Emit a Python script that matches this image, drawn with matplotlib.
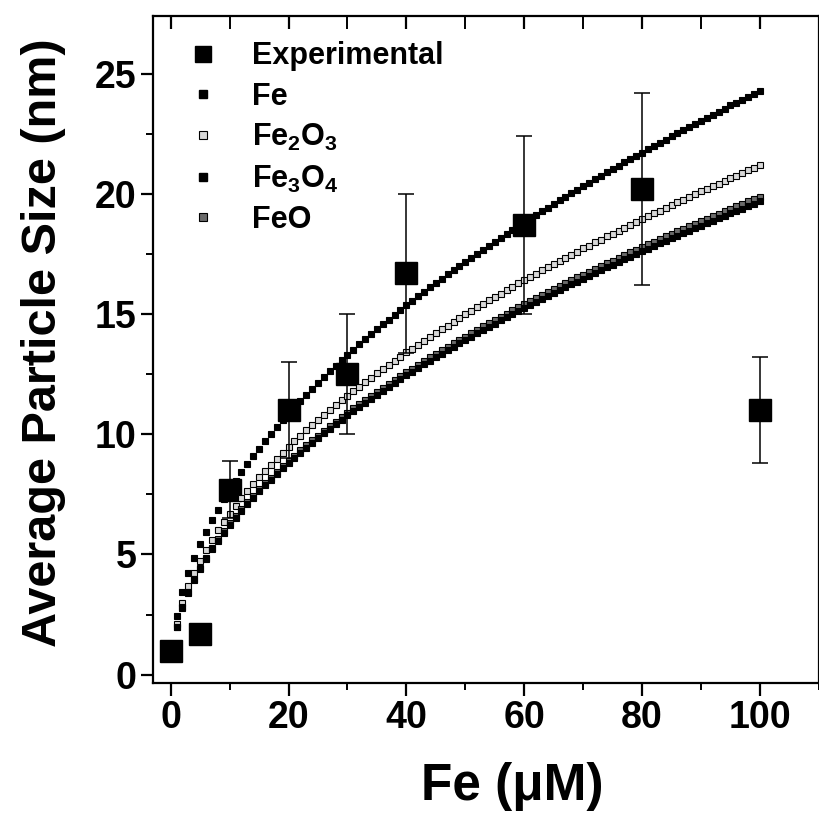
import matplotlib
matplotlib.use("Agg")
import matplotlib.pyplot as plt
from matplotlib.lines import Line2D

plt.rcParams['font.family'] = ['Liberation Sans', 'DejaVu Sans']
plt.rcParams['font.weight'] = 'bold'
plt.rcParams['mathtext.fontset'] = 'custom'
plt.rcParams['mathtext.rm'] = 'Liberation Sans:bold'
plt.rcParams['mathtext.it'] = 'Liberation Sans:bold'
plt.rcParams['mathtext.bf'] = 'Liberation Sans:bold'
plt.rcParams['mathtext.default'] = 'rm'

# Measured particle sizes
exp_conc = [0, 5, 10, 20, 30, 40, 60, 80, 100]
exp_size = [1.0, 1.7, 7.7, 11.0, 12.5, 16.7, 18.7, 20.2, 11.0]
exp_err = [0.0, 0.0, 1.2, 2.0, 2.5, 3.3, 3.7, 4.0, 2.2]

# Model curves, one point per µM
model_conc = list(range(1, 101))
size_fe = [2.43, 3.44, 4.21, 4.86, 5.43, 5.95, 6.43, 6.87, 7.29, 7.68,
           8.06, 8.42, 8.76, 9.09, 9.41, 9.72, 10.02, 10.31, 10.59, 10.87,
           11.14, 11.40, 11.65, 11.90, 12.15, 12.39, 12.63, 12.86, 13.09, 13.31,
           13.53, 13.75, 13.96, 14.17, 14.38, 14.58, 14.78, 14.98, 15.18, 15.37,
           15.56, 15.75, 15.93, 16.12, 16.30, 16.48, 16.66, 16.84, 17.01, 17.18,
           17.35, 17.52, 17.69, 17.86, 18.02, 18.18, 18.35, 18.51, 18.66, 18.82,
           18.98, 19.13, 19.29, 19.44, 19.59, 19.74, 19.89, 20.04, 20.19, 20.33,
           20.48, 20.62, 20.76, 20.90, 21.04, 21.18, 21.32, 21.46, 21.60, 21.73,
           21.87, 22.00, 22.14, 22.27, 22.40, 22.54, 22.67, 22.80, 22.92, 23.05,
           23.18, 23.31, 23.43, 23.56, 23.69, 23.81, 23.93, 24.05, 24.18, 24.30]
size_fe2o3 = [2.12, 3.00, 3.67, 4.24, 4.74, 5.19, 5.61, 6.00, 6.36, 6.70,
              7.03, 7.34, 7.64, 7.93, 8.21, 8.48, 8.74, 8.99, 9.24, 9.48,
              9.72, 9.94, 10.17, 10.39, 10.60, 10.81, 11.02, 11.22, 11.42, 11.61,
              11.80, 11.99, 12.18, 12.36, 12.54, 12.72, 12.90, 13.07, 13.24, 13.41,
              13.57, 13.74, 13.90, 14.06, 14.22, 14.38, 14.53, 14.69, 14.84, 14.99,
              15.14, 15.29, 15.43, 15.58, 15.72, 15.86, 16.01, 16.15, 16.28, 16.42,
              16.56, 16.69, 16.83, 16.96, 17.09, 17.22, 17.35, 17.48, 17.61, 17.74,
              17.86, 17.99, 18.11, 18.24, 18.36, 18.48, 18.60, 18.72, 18.84, 18.96,
              19.08, 19.20, 19.31, 19.43, 19.55, 19.66, 19.77, 19.89, 20.00, 20.11,
              20.22, 20.33, 20.44, 20.55, 20.66, 20.77, 20.88, 20.99, 21.09, 21.20]
size_fe3o4 = [1.97, 2.79, 3.41, 3.94, 4.41, 4.82, 5.21, 5.57, 5.91, 6.23,
              6.53, 6.82, 7.10, 7.37, 7.63, 7.88, 8.12, 8.36, 8.59, 8.81,
              9.03, 9.24, 9.45, 9.65, 9.85, 10.05, 10.24, 10.42, 10.61, 10.79,
              10.97, 11.14, 11.32, 11.49, 11.65, 11.82, 11.98, 12.14, 12.30, 12.46,
              12.61, 12.77, 12.92, 13.07, 13.21, 13.36, 13.51, 13.65, 13.79, 13.93,
              14.07, 14.21, 14.34, 14.48, 14.61, 14.74, 14.87, 15.00, 15.13, 15.26,
              15.39, 15.51, 15.64, 15.76, 15.88, 16.00, 16.12, 16.24, 16.36, 16.48,
              16.60, 16.72, 16.83, 16.95, 17.06, 17.17, 17.29, 17.40, 17.51, 17.62,
              17.73, 17.84, 17.95, 18.06, 18.16, 18.27, 18.37, 18.48, 18.58, 18.69,
              18.79, 18.90, 19.00, 19.10, 19.20, 19.30, 19.40, 19.50, 19.60, 19.70]
size_feo = [1.99, 2.81, 3.45, 3.98, 4.45, 4.87, 5.27, 5.63, 5.97, 6.29,
            6.60, 6.89, 7.18, 7.45, 7.71, 7.96, 8.20, 8.44, 8.67, 8.90,
            9.12, 9.33, 9.54, 9.75, 9.95, 10.15, 10.34, 10.53, 10.72, 10.90,
            11.08, 11.26, 11.43, 11.60, 11.77, 11.94, 12.11, 12.27, 12.43, 12.59,
            12.74, 12.90, 13.05, 13.20, 13.35, 13.50, 13.64, 13.79, 13.93, 14.07,
            14.21, 14.35, 14.49, 14.62, 14.76, 14.89, 15.02, 15.16, 15.29, 15.41,
            15.54, 15.67, 15.79, 15.92, 16.04, 16.17, 16.29, 16.41, 16.53, 16.65,
            16.77, 16.89, 17.00, 17.12, 17.23, 17.35, 17.46, 17.58, 17.69, 17.80,
            17.91, 18.02, 18.13, 18.24, 18.35, 18.45, 18.56, 18.67, 18.77, 18.88,
            18.98, 19.09, 19.19, 19.29, 19.40, 19.50, 19.60, 19.70, 19.80, 19.90]

x_ticks = [0, 20, 40, 60, 80, 100]
y_ticks = [0, 5, 10, 15, 20, 25]

FE2O3_FACE = '#d8d8d8'
FEO_FACE = '#6a6a6a'

fig = plt.figure(figsize=(8.2, 8.17), dpi=100)
ax = fig.add_axes([0.1866, 0.164, 0.812, 0.816])

# experimental squares
ax.plot(exp_conc, exp_size, linestyle='none', marker='s', ms=16,
        mfc='black', mec='black', zorder=2)

# model curves (Fe3O4 drawn last so it sits over the nearly coincident FeO)
curve_styles = [
    (size_fe, 'black'),
    (size_fe2o3, FE2O3_FACE),
    (size_feo, FEO_FACE),
    (size_fe3o4, 'black'),
]
for values, face in curve_styles:
    ax.plot(model_conc, values, linestyle='none', marker='s', ms=4.8,
            mfc=face, mec='black', mew=0.8, zorder=3)

ax.errorbar(exp_conc, exp_size, yerr=exp_err, fmt='none', ecolor='black',
            elinewidth=1.1, capsize=6, capthick=1.1, zorder=4)

ax.set_xlim(-3, 109)
ax.set_ylim(-0.35, 27.4)
ax.set_xticks(x_ticks)
ax.set_yticks(y_ticks)
ax.set_xticks([10, 30, 50, 70, 90, 110], minor=True)
ax.set_yticks([2.5, 7.5, 12.5, 17.5, 22.5], minor=True)

for s in ax.spines.values():
    s.set_linewidth(1.6)

ax.tick_params(axis='both', which='major', direction='out', length=9,
               width=1.6, labelsize=27, pad=3)
ax.tick_params(axis='both', which='minor', direction='out', length=5,
               width=1.4)
ax.tick_params(axis='x', which='both', top=True)
ax.tick_params(axis='y', which='both', right=True)
for t in ax.xaxis.get_major_ticks() + ax.xaxis.get_minor_ticks():
    t.tick2line.set_marker(3)  # inward tick on the top spine
    t.tick2line.set_markersize(9)
for t in ax.yaxis.get_major_ticks() + ax.yaxis.get_minor_ticks():
    t.tick2line.set_marker(1)  # inward tick on the right spine
    t.tick2line.set_markersize(7)

for lab in ax.get_xticklabels() + ax.get_yticklabels():
    lab.set_fontweight('bold')

ax.set_xlabel('Fe (\u03bcM)', fontsize=37, fontweight='bold')
ax.xaxis.set_label_coords(0.539, -0.118)
ax.set_ylabel('Average Particle Size (nm)', fontsize=35, fontweight='bold')
ax.yaxis.set_label_coords(-0.13, 0.51)

handles = [
    Line2D([], [], linestyle='none', marker='s', ms=12, mfc='black', mec='black'),
    Line2D([], [], linestyle='none', marker='s', ms=6, mfc='black', mec='black'),
    Line2D([], [], linestyle='none', marker='s', ms=6, mfc=FE2O3_FACE, mec='black', mew=0.8),
    Line2D([], [], linestyle='none', marker='s', ms=6, mfc='black', mec='black'),
    Line2D([], [], linestyle='none', marker='s', ms=6, mfc=FEO_FACE, mec='black', mew=0.8),
]
labels = ['Experimental', 'Fe', 'Fe$_2$O$_3$', 'Fe$_3$O$_4$', 'FeO']
ax.legend(handles, labels, loc='upper left', bbox_to_anchor=(0.02, 0.99),
          frameon=False, handlelength=1.2, handletextpad=1.0,
          labelspacing=0.34, borderaxespad=0.2,
          prop={'weight': 'bold', 'size': 22})

fig.savefig('out.png', dpi=100)
